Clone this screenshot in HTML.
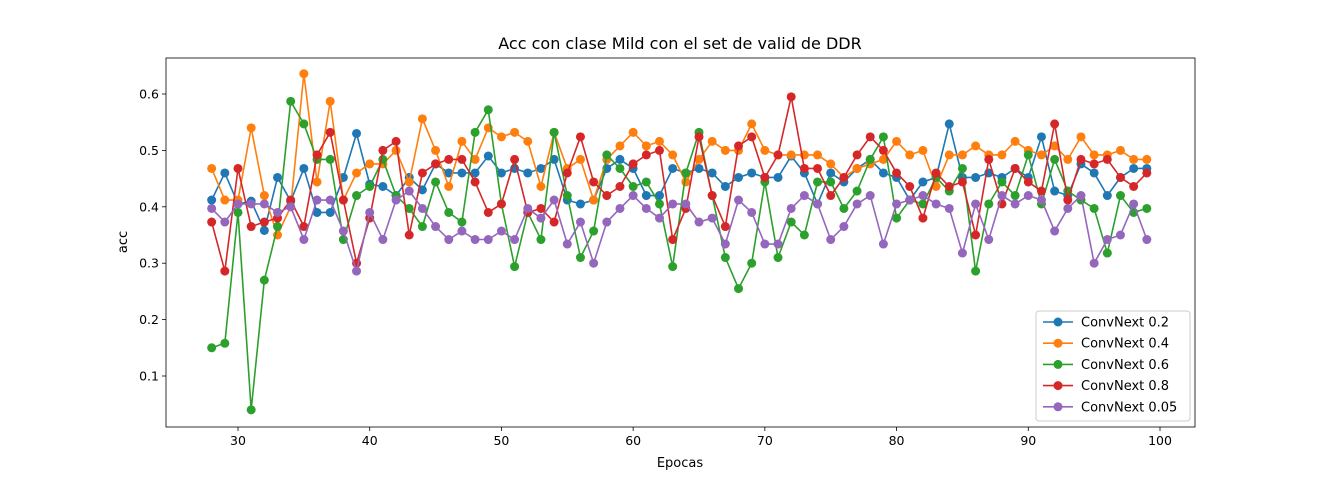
<!DOCTYPE html>
<html><head><meta charset="utf-8"><style>
body{margin:0;background:#fff;}
svg{display:block;font-family:"DejaVu Sans","Liberation Sans",sans-serif;}
</style></head><body>
<svg id="chart" width="1328" height="480" xmlns="http://www.w3.org/2000/svg"></svg>
<script>
const epochs = [];
for (let e = 28; e <= 99; e++) epochs.push(e);
const xTicks = [30,40,50,60,70,80,90,100];
const yTicks = [0.1,0.2,0.3,0.4,0.5,0.6];
const seriesNames = ["ConvNext 0.2","ConvNext 0.4","ConvNext 0.6","ConvNext 0.8","ConvNext 0.05"];
const s02 = [0.412,0.46,0.405,0.41,0.358,0.452,0.41,0.468,0.39,0.39,0.452,0.53,0.44,0.436,0.42,0.452,0.43,0.476,0.46,0.46,0.46,0.49,0.46,0.468,0.46,0.468,0.484,0.412,0.405,0.412,0.468,0.484,0.468,0.42,0.42,0.468,0.46,0.468,0.46,0.436,0.452,0.46,0.452,0.452,0.49,0.46,0.405,0.46,0.444,0.468,0.484,0.46,0.452,0.412,0.444,0.452,0.547,0.452,0.452,0.46,0.452,0.468,0.452,0.524,0.428,0.42,0.476,0.46,0.42,0.452,0.468,0.468];
const s04 = [0.468,0.412,0.412,0.54,0.42,0.35,0.40,0.636,0.444,0.587,0.412,0.46,0.476,0.476,0.50,0.444,0.556,0.50,0.436,0.516,0.484,0.54,0.524,0.532,0.516,0.436,0.532,0.468,0.484,0.412,0.484,0.508,0.532,0.508,0.516,0.492,0.444,0.484,0.516,0.50,0.50,0.547,0.50,0.492,0.492,0.492,0.492,0.476,0.452,0.468,0.476,0.484,0.516,0.492,0.50,0.436,0.492,0.492,0.508,0.492,0.492,0.516,0.50,0.492,0.508,0.484,0.524,0.492,0.492,0.50,0.484,0.484];
const s06 = [0.15,0.158,0.39,0.04,0.27,0.365,0.587,0.547,0.484,0.484,0.342,0.42,0.436,0.484,0.42,0.397,0.365,0.444,0.39,0.373,0.532,0.572,0.405,0.294,0.39,0.342,0.532,0.42,0.31,0.357,0.492,0.468,0.436,0.444,0.405,0.294,0.46,0.532,0.42,0.31,0.255,0.30,0.444,0.31,0.373,0.35,0.444,0.444,0.397,0.428,0.484,0.524,0.38,0.412,0.405,0.452,0.428,0.468,0.286,0.405,0.444,0.42,0.492,0.405,0.484,0.428,0.412,0.397,0.318,0.42,0.39,0.397];
const s08 = [0.373,0.286,0.468,0.365,0.373,0.38,0.412,0.365,0.492,0.532,0.412,0.30,0.38,0.50,0.516,0.35,0.46,0.476,0.484,0.484,0.444,0.39,0.405,0.484,0.39,0.397,0.373,0.46,0.524,0.444,0.42,0.436,0.476,0.492,0.50,0.342,0.397,0.524,0.42,0.365,0.508,0.524,0.452,0.492,0.595,0.468,0.468,0.42,0.452,0.492,0.524,0.50,0.46,0.436,0.38,0.46,0.436,0.444,0.35,0.484,0.405,0.468,0.444,0.428,0.547,0.412,0.484,0.476,0.484,0.452,0.436,0.46];
const s005 = [0.397,0.373,0.405,0.405,0.405,0.39,0.40,0.342,0.412,0.412,0.357,0.286,0.39,0.342,0.412,0.428,0.397,0.365,0.342,0.357,0.342,0.342,0.357,0.342,0.397,0.38,0.412,0.334,0.373,0.30,0.373,0.397,0.42,0.397,0.38,0.405,0.405,0.373,0.38,0.334,0.412,0.39,0.334,0.334,0.397,0.42,0.405,0.342,0.365,0.405,0.42,0.334,0.405,0.412,0.42,0.405,0.397,0.318,0.405,0.342,0.42,0.405,0.42,0.412,0.357,0.397,0.42,0.30,0.342,0.35,0.405,0.342];
const seriesData = [s02,s04,s06,s08,s005];
const colors = ["#1f77b4","#ff7f0e","#2ca02c","#d62728","#9467bd"];

const NS="http://www.w3.org/2000/svg";
const svg=document.getElementById('chart');
const L=166,R=1195,T=58,B=427;
const xS=v=>238+(v-30)*(1160-238)/70;
const yS=v=>94+(0.6-v)*564;
function mk(tag,attrs,parent){const el=document.createElementNS(NS,tag);for(const k in attrs)el.setAttribute(k,attrs[k]);(parent||svg).appendChild(el);return el;}

const title=mk('text',{x:680,y:49,'text-anchor':'middle','font-size':16,fill:'#000'});


title.textContent='Acc con clase Mild con el set de valid de DDR';

xTicks.forEach(t=>{
  const g=mk('g',{});
  
  
  mk('line',{x1:xS(t),x2:xS(t),y1:B,y2:B+4,stroke:'#000','stroke-width':0.8},g);
  const tx=mk('text',{x:xS(t),y:B+18,'text-anchor':'middle','font-size':12.5},g);
  tx.textContent=t;
});
yTicks.forEach(t=>{
  const g=mk('g',{});
  
  
  mk('line',{x1:L-4,x2:L,y1:yS(t),y2:yS(t),stroke:'#000','stroke-width':0.8},g);
  const tx=mk('text',{x:L-7,y:yS(t)+4.5,'text-anchor':'end','font-size':12.5},g);
  tx.textContent=t.toFixed(1);
});
const xl=mk('text',{x:680,y:467,'text-anchor':'middle','font-size':13});


xl.textContent='Epocas';
const yl=mk('text',{x:0,y:0,'text-anchor':'middle','font-size':13,transform:'translate(127,242) rotate(-90)'});


yl.textContent='acc';

seriesData.forEach((d,i)=>{
  const g=mk('g',{});
  
  
  const pts=d.map((v,j)=>xS(epochs[j])+','+yS(v)).join(' ');
  mk('polyline',{points:pts,fill:'none',stroke:colors[i],'stroke-width':1.6},g);
  d.forEach((v,j)=>{
    const c=mk('circle',{cx:xS(epochs[j]),cy:yS(v),r:4.5,fill:colors[i]},g);
    
    
  });
});

const frame=mk('rect',{x:L,y:T,width:R-L,height:B-T,fill:'none',stroke:'#000','stroke-width':0.8});



const lg=mk('g',{});


mk('rect',{x:1036,y:311,width:154,height:110,rx:3,fill:'#fff','fill-opacity':0.8,stroke:'#ccc'},lg);
seriesNames.forEach((n,i)=>{
  const y=322+i*21.2;
  const e=mk('g',{},lg);
  
  
  mk('line',{x1:1043,x2:1073,y1:y,y2:y,stroke:colors[i],'stroke-width':1.6},e);
  mk('circle',{cx:1058,cy:y,r:4.5,fill:colors[i]},e);
  const t=mk('text',{x:1081,y:y+4.5,'font-size':13},e);
  t.textContent=n;
});
</script>
</body></html>
